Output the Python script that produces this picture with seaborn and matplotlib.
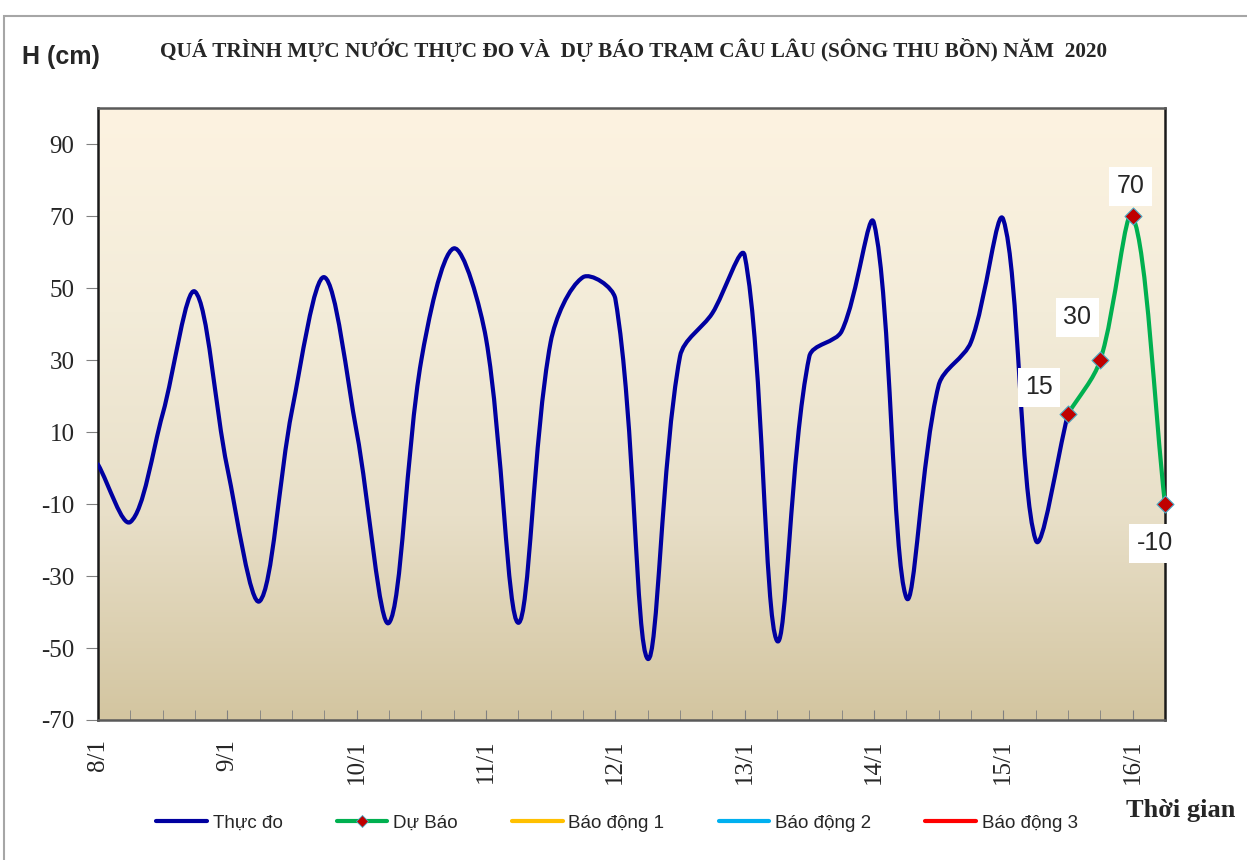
import numpy as np
import seaborn as sns
import matplotlib.pyplot as plt
from matplotlib.path import Path
from matplotlib.patches import PathPatch, Rectangle
from matplotlib.lines import Line2D
from matplotlib.colors import LinearSegmentedColormap

sns.set_style('ticks')
plt.rcParams['font.family'] = ['Liberation Serif', 'DejaVu Serif']

# observed level every 6 hours, 8/1 00h -> 15/1 12h (hours since 8/1 00h)
obs_hours = list(range(0, 181, 6))
obs_level = [1, -15, 15, 49, 0, -37, 16, 53, 10, -43, 30, 61, 36, -43, 35, 53,
             47, -53, 31, 43, 59, -48, 31, 38, 68, -36, 23, 35, 69, -20, 15]

# forecast 15/1 12h -> 16/1 06h
fc_hours = [180, 186, 192, 198]
fc_level = [15, 30, 70, -10]
fc_offsets = [(-29, 27), (-23, 43), (-2, 30), (-10, -39)]

day_hours = [0, 24, 48, 72, 96, 120, 144, 168, 192]
day_labels = ['8/1', '9/1', '10/1', '11/1', '12/1', '13/1', '14/1', '15/1', '16/1']
y_ticks = [-70, -50, -30, -10, 10, 30, 50, 70, 90]

legend_names = ['Thực đo', 'Dự Báo', 'Báo động 1', 'Báo động 2', 'Báo động 3']
legend_colors = ['#0000A0', '#00B050', '#FFC000', '#00B0F0', '#FF0000']

W, H = 1247, 860
X0, X1, Y0, Y1 = 98, 1165, 108, 720
XMAX, YMIN, YMAX = 198, -70, 100
SX = (X1 - X0) / XMAX
SY = (Y1 - Y0) / (YMAX - YMIN)


def smooth_path(x, y):
    # excel-like smoothed line: bezier arms scaled by segment length (screen space)
    pts = np.column_stack([np.asarray(x, float) * SX, np.asarray(y, float) * SY])
    n = len(pts)
    c_in = pts.copy()
    c_out = pts.copy()
    for i in range(n):
        prev = pts[max(i - 1, 0)]
        nxt = pts[min(i + 1, n - 1)]
        d1 = np.hypot(*(pts[i] - prev))
        d2 = np.hypot(*(nxt - pts[i]))
        if d1 + d2 == 0:
            continue
        t = nxt - prev
        c_in[i] = pts[i] - t * d1 / (d1 + d2) / 3
        c_out[i] = pts[i] + t * d2 / (d1 + d2) / 3
    verts = [pts[0]]
    codes = [Path.MOVETO]
    for i in range(n - 1):
        verts += [c_out[i], c_in[i + 1], pts[i + 1]]
        codes += [Path.CURVE4] * 3
    verts = np.array(verts) / [SX, SY]
    return Path(verts, codes)


fig = plt.figure(figsize=(W / 100, H / 100), dpi=100)
fig.patches.append(Rectangle((4 / W, -0.1), 1.2, 1.1 - 16 / H, transform=fig.transFigure,
                             fill=False, edgecolor='#A6A6A6', linewidth=1.5))
ax = fig.add_axes([X0 / W, 1 - Y1 / H, (X1 - X0) / W, (Y1 - Y0) / H])

# background gradient
bg = LinearSegmentedColormap.from_list('bg', ['#D3C5A0', '#E8DFC8', '#F3ECD9', '#FDF3E1'])
grad = np.linspace(0, 1, 256).reshape(-1, 1)
ax.imshow(grad, cmap=bg, origin='lower', extent=[0, 1, 0, 1], transform=ax.transAxes,
          aspect='auto', zorder=0)

ax.add_patch(PathPatch(smooth_path(obs_hours, obs_level), facecolor='none',
                       edgecolor=legend_colors[0], linewidth=3, zorder=3,
                       capstyle='round', joinstyle='round'))
ax.add_patch(PathPatch(smooth_path(fc_hours, fc_level), facecolor='none',
                       edgecolor=legend_colors[1], linewidth=3, zorder=3,
                       capstyle='round', joinstyle='round', clip_on=False))
sns.scatterplot(x=fc_hours, y=fc_level, marker='D', s=75, color='#C00000',
                edgecolor='#4BACC6', linewidth=0.8, zorder=5, ax=ax, clip_on=False)

for h, v, off in zip(fc_hours, fc_level, fc_offsets):
    ax.annotate(str(v), (h, v), xytext=off, textcoords='offset pixels',
                ha='center', va='center', fontsize=18, family='Liberation Sans',
                bbox=dict(boxstyle='square,pad=0.3', fc='white', ec='none'), zorder=6)

ax.set_xlim(0, XMAX)
ax.set_ylim(YMIN, YMAX)
ax.set_xticks(day_hours)
ax.set_xticklabels(day_labels, rotation=90, fontsize=18)
ax.set_xticks(list(range(0, XMAX + 1, 6)), minor=True)
ax.set_yticks(y_ticks)
ax.set_yticklabels([str(t) for t in y_ticks], fontsize=18)
ax.tick_params(axis='x', which='both', direction='in', length=7, color='#808080', pad=14)
ax.tick_params(axis='y', direction='out', length=9, color='#808080', pad=8)
for side in ['left', 'right']:
    ax.spines[side].set_color('#1A1A1A')
    ax.spines[side].set_linewidth(1.8)
for side in ['top', 'bottom']:
    ax.spines[side].set_color('#5A5A5A')
    ax.spines[side].set_linewidth(1.8)

fig.text(22 / W, 1 - 57 / H, 'H (cm)', family='Liberation Sans', fontweight='bold',
         fontsize=18, ha='left', va='center')
fig.text(634 / W, 1 - 50 / H,
         'QUÁ TRÌNH MỰC NƯỚC THỰC ĐO VÀ  DỰ BÁO TRẠM CÂU LÂU (SÔNG THU BỒN) NĂM  2020',
         fontweight='bold', fontsize=15.3, ha='center', va='center')
fig.text(1235 / W, 1 - 810 / H, 'Thời gian', fontweight='bold', fontsize=19,
         ha='right', va='center')

handles = []
for name, col in zip(legend_names, legend_colors):
    if name == 'Dự Báo':
        handles.append(Line2D([], [], color=col, lw=3, marker='D', ms=6,
                              mfc='#C00000', mec='#4BACC6', mew=0.6))
    else:
        handles.append(Line2D([], [], color=col, lw=3))
fig.legend(handles, legend_names, loc='center', ncol=5, frameon=False,
           bbox_to_anchor=(617 / W, 1 - 823 / H),
           prop={'family': 'Liberation Sans', 'size': 13.5},
           handlelength=2.7, handletextpad=0.3, columnspacing=2.9)

fig.savefig('out.png', dpi=100)
